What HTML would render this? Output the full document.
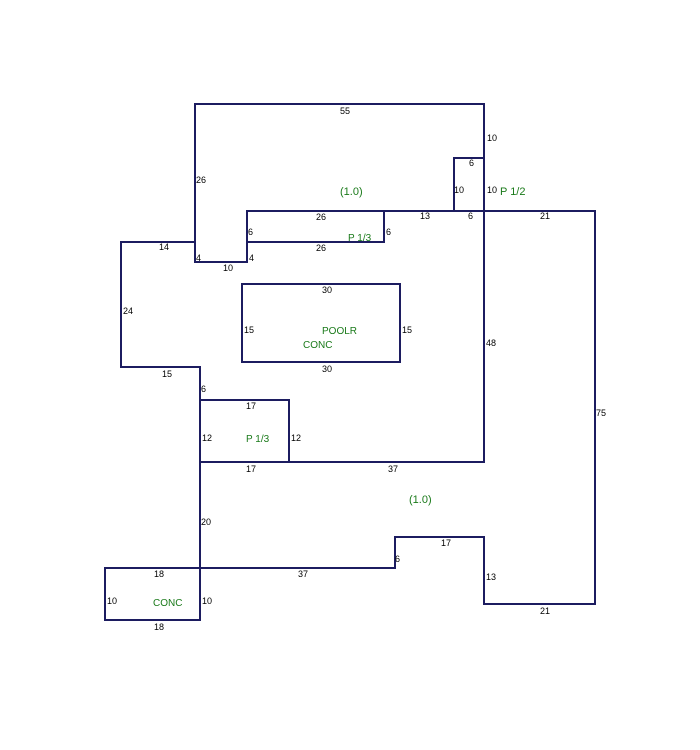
<!DOCTYPE html>
<html><head><meta charset="utf-8"><style>
html,body{margin:0;padding:0;background:#fff;}
svg{display:block;}
text{font-family:"Liberation Sans",sans-serif;font-size:9px;fill:#000;}
.g{fill:#1a7a1a;font-size:11px;}
</style></head><body>
<svg width="700" height="750" viewBox="0 0 700 750">
<g stroke="#1c1c60" stroke-width="2" fill="none" stroke-linecap="square">
<polyline points="195,262 195,104 484,104 484,462"/>
<polyline points="195,262 247,262 247,211 595,211 595,604 484,604 484,537 395,537 395,568 105,568 105,620 200,620 200,367 121,367 121,242 195,242"/>
<polyline points="247,242 384,242 384,211"/>
<polyline points="454,211 454,158 484,158"/>
<polyline points="200,400 289,400 289,462"/>
<line x1="200" y1="462" x2="484" y2="462"/>
<rect x="242" y="284" width="158" height="78"/>
</g>
<text x="340" y="114">55</text>
<text x="487" y="141">10</text>
<text x="469" y="166">6</text>
<text x="454" y="193">10</text>
<text x="487" y="193">10</text>
<text x="468" y="219">6</text>
<text x="420" y="219">13</text>
<text x="540" y="219">21</text>
<text x="196" y="183">26</text>
<text x="316" y="220">26</text>
<text x="316" y="251">26</text>
<text x="248" y="235">6</text>
<text x="386" y="235">6</text>
<text x="196" y="261">4</text>
<text x="249" y="261">4</text>
<text x="223" y="271">10</text>
<text x="159" y="250">14</text>
<text x="123" y="314">24</text>
<text x="162" y="377">15</text>
<text x="201" y="392">6</text>
<text x="246" y="409">17</text>
<text x="202" y="441">12</text>
<text x="291" y="441">12</text>
<text x="246" y="472">17</text>
<text x="388" y="472">37</text>
<text x="322" y="293">30</text>
<text x="244" y="333">15</text>
<text x="402" y="333">15</text>
<text x="322" y="372">30</text>
<text x="486" y="346">48</text>
<text x="596" y="416">75</text>
<text x="201" y="525">20</text>
<text x="441" y="546">17</text>
<text x="395" y="562">6</text>
<text x="486" y="580">13</text>
<text x="540" y="614">21</text>
<text x="298" y="577">37</text>
<text x="154" y="577">18</text>
<text x="107" y="604">10</text>
<text x="202" y="604">10</text>
<text x="154" y="630">18</text>
<text class="g" x="340" y="195">(1.0)</text>
<text class="g" x="500" y="195">P 1/2</text>
<text class="g" x="348" y="241" style="font-size:10px">P 1/3</text>
<text class="g" x="322" y="334" style="font-size:10px">POOLR</text>
<text class="g" x="303" y="348" style="font-size:10px">CONC</text>
<text class="g" x="246" y="442" style="font-size:10px">P 1/3</text>
<text class="g" x="409" y="503">(1.0)</text>
<text class="g" x="153" y="606" style="font-size:10px">CONC</text>
</svg>
</body></html>
